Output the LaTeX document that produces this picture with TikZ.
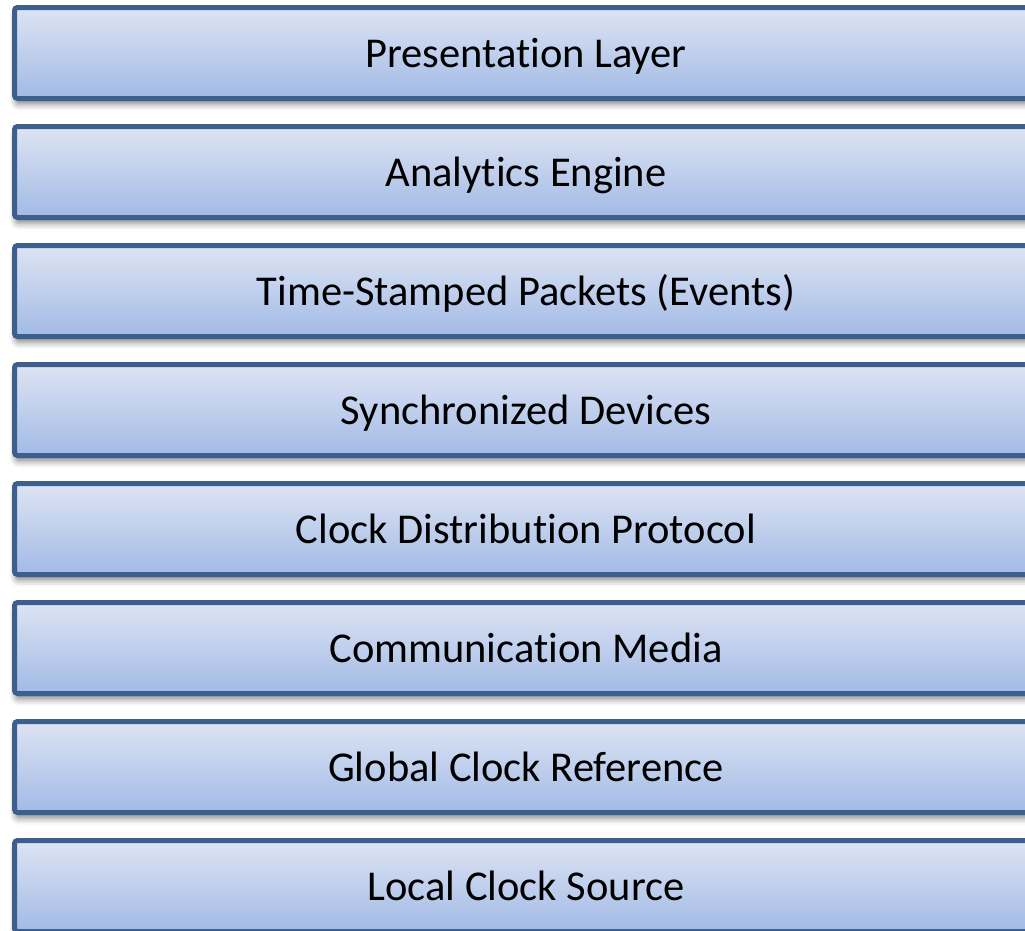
\documentclass[tikz,border=0pt]{standalone}
\usepackage{fontspec}
\setmainfont{Carlito}[Ligatures=NoCommon]
\usetikzlibrary{shadows.blur}
\definecolor{bordc}{HTML}{3C5F8E}
\definecolor{topc}{HTML}{DDE4F3}
\definecolor{botc}{HTML}{A2BAE6}
\begin{document}
\begin{tikzpicture}[x=1pt,y=-1pt,
  layer/.style={draw=bordc, line width=5pt, rounded corners=3pt,
    top color=topc, bottom color=botc,
    minimum width=1023pt, minimum height=91pt, inner sep=0pt,
    text height=29.4pt, text depth=0pt,
    font=\fontsize{42.5}{48}\selectfont, text=black,
    blur shadow={shadow xshift=1pt, shadow yshift=-6pt, shadow blur radius=6pt, shadow opacity=45}}]
\useasboundingbox (0,0) rectangle (1025,930);
\node[layer] (l1) at (526,53) {Presentation Layer};
\node[layer] (l2) at (526,172) {Analytics Engine};
\node[layer] (l3) at (526,291) {Time-Stamped Packets (Events)};
\node[layer] (l4) at (526,410) {Synchronized Devices};
\node[layer] (l5) at (526,529) {Clock Distribution Protocol};
\node[layer] (l6) at (526,648) {Communication Media};
\node[layer] (l7) at (526,767) {Global Clock Reference};
\node[layer] (l8) at (526,886) {Local Clock Source};
\end{tikzpicture}
\end{document}
